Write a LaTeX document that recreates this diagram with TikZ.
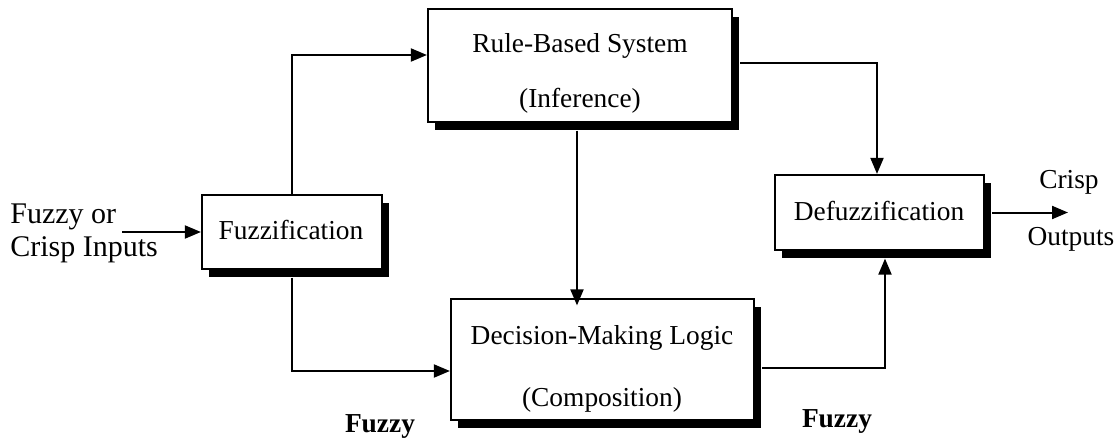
\documentclass[tikz,border=0pt]{standalone}
\usepackage{fontspec}
\setmainfont{Liberation Serif}
\usetikzlibrary{arrows.meta,shadows,calc}
\begin{document}
\begin{tikzpicture}[x=0.5pt,y=-0.5pt,
  every node/.style={font=\fontsize{13.7}{16}\selectfont},
  blk/.style={draw,line width=1.1pt,fill=white,inner sep=0pt,
    drop shadow={shadow xshift=3.5pt,shadow yshift=-3.75pt,fill=black,opacity=1}},
  txt/.style={anchor=base,inner sep=0pt},
  conn/.style={line width=1pt},
  arr/.style={conn,-{Triangle[length=8pt,width=6.5pt]}}]
\useasboundingbox (0,0) rectangle (1120,439);
% boxes
\node[blk,minimum width=90pt,minimum height=37pt] (fuzz) at (292,232) {};
\node[blk,minimum width=152pt,minimum height=56.5pt] (rule) at (580,65.5) {};
\node[blk,minimum width=151.5pt,minimum height=60.5pt] (dec) at (602.5,359.5) {};
\node[blk,minimum width=104.5pt,minimum height=37.5pt] (defuzz) at (879.5,212.5) {};
% box texts
\node[txt] (tfuzz) at (291,239) {Fuzzification};
\node[txt] (trule1) at (580,53) {Rule-Based System};
\node[txt] (trule2) at (580,107) {(Inference)};
\node[txt] (tdec1) at (602,344) {Decision-Making Logic};
\node[txt] (tdec2) at (602,406) {(Composition)};
\node[txt] (tdefuzz) at (879,220) {Defuzzification};
% outer texts
\node[txt,anchor=base west,font=\fontsize{15}{17}\selectfont] (in1) at (10,223) {Fuzzy or};
\node[txt,anchor=base west,font=\fontsize{15}{17}\selectfont] (in2) at (10,256) {Crisp Inputs};
\node[txt] (out1) at (1069,188) {Crisp};
\node[txt] (out2) at (1071,245) {Outputs};
\node[txt,font=\fontsize{13.7}{16}\selectfont\bfseries] (fz1) at (380,432) {Fuzzy};
\node[txt,font=\fontsize{13.7}{16}\selectfont\bfseries] (fz2) at (837,427) {Fuzzy};
% connectors
\coordinate (inp) at (122,232);
\coordinate (outp) at (1068,212.5);
\draw[arr] (inp) -- (fuzz.west);
\draw[arr] (fuzz.north) |- ([yshift=5.25pt]rule.west);
\draw[arr] ([yshift=-3.75pt]fuzz.south) |- ([yshift=-5.75pt]dec.west);
\draw[arr] ([xshift=3.5pt,yshift=1.25pt]rule.east) -| ([xshift=-1.25pt]defuzz.north);
\draw[arr] ([xshift=-1.5pt,yshift=-3.75pt]rule.south) -- ([xshift=-1.5pt,yshift=-3.75pt]rule.south |- dec.north);
\draw[arr] ([xshift=3.5pt,yshift=-4.25pt]dec.east) -| ([xshift=2.75pt,yshift=-3.75pt]defuzz.south);
\draw[arr] ([xshift=3.5pt]defuzz.east) -- (outp);
\end{tikzpicture}
\end{document}
